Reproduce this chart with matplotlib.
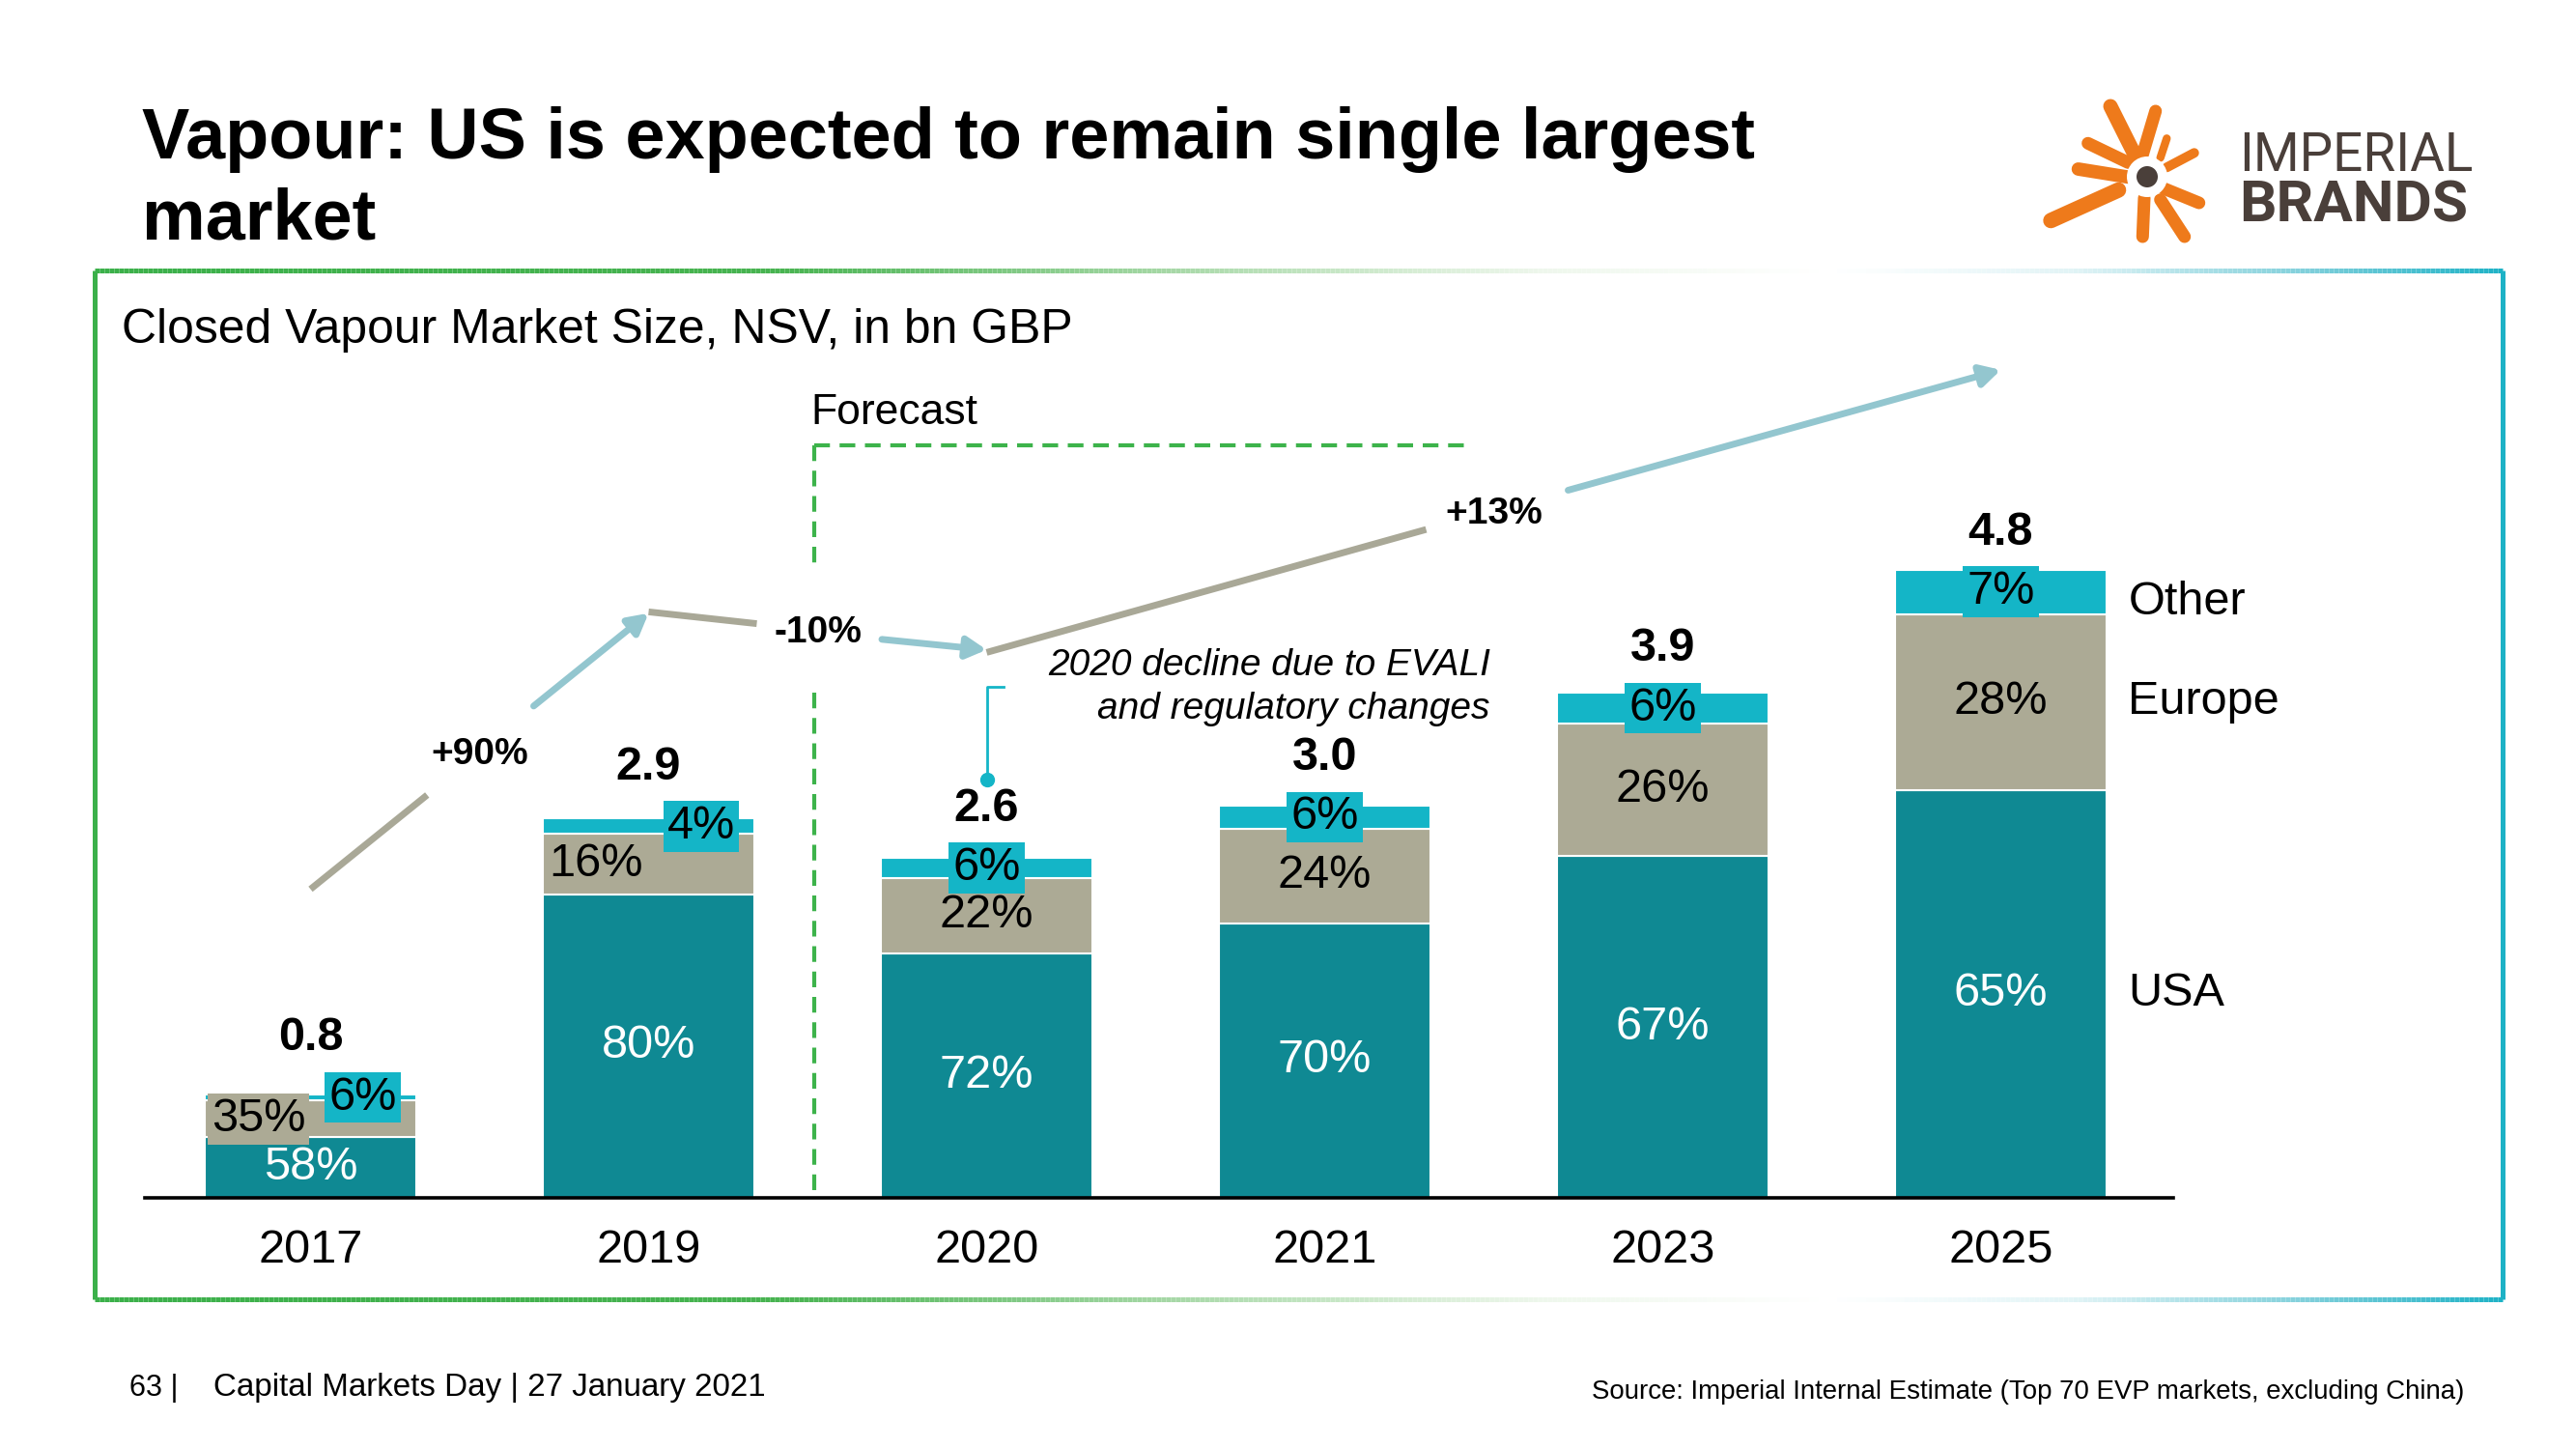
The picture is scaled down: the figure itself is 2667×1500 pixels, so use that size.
import numpy as np
import matplotlib
matplotlib.use('Agg')
import matplotlib.pyplot as plt
from matplotlib.collections import LineCollection
from matplotlib.colors import LinearSegmentedColormap
from matplotlib.patches import Circle

plt.rcParams['font.family'] = ['Liberation Sans', 'DejaVu Sans']

# ---------------- data ----------------
years = ['2017', '2019', '2020', '2021', '2023', '2025']
totals = [0.8, 2.9, 2.6, 3.0, 3.9, 4.8]
usa_pct = [58, 80, 72, 70, 67, 65]
europe_pct = [35, 16, 22, 24, 26, 28]
other_pct = [6, 4, 6, 6, 6, 7]
series_names = ['USA', 'Europe', 'Other']
growth_labels = ['+90%', '-10%', '+13%']

title_lines = ['Vapour: US is expected to remain single largest', 'market']
subtitle = 'Closed Vapour Market Size, NSV, in bn GBP'
note_text = '2020 decline due to EVALI\nand regulatory changes'
source_text = 'Source: Imperial Internal Estimate (Top 70 EVP markets, excluding China)'
footer_text = 'Capital Markets Day | 27 January 2021'
page_text = '63 |'

# ---------------- styles ----------------
C_USA = '#0F8993'
C_EUR = '#ACAA95'
C_OTH = '#14B5C7'
C_ARR_GREY = '#A9A897'
C_ARR_BLUE = '#93C6CF'
C_GREEN = '#3DB34B'
C_LOGO_OR = '#EE7A1B'
C_LOGO_BR = '#4A3F3A'

tot = np.array(totals)
usa = tot * np.array(usa_pct) / 100
eur = tot * np.array(europe_pct) / 100
oth = tot * np.array(other_pct) / 100
x = np.arange(len(years))
BW = 0.623

fig = plt.figure(figsize=(26.67, 15), dpi=100)
bg = fig.add_axes([0, 0, 1, 1])
bg.set_xlim(0, 2667)
bg.set_ylim(1500, 0)
bg.axis('off')

# ----- gradient frame -----
cmap = LinearSegmentedColormap.from_list('frame', [
    (0.0, '#3BB04A'), (0.28, '#47B350'), (0.45, '#A9D9A9'), (0.60, '#EEF7EC'),
    (0.72, '#FFFFFF'), (0.82, '#E2F4F6'), (0.92, '#7FCFDA'), (1.0, '#1DB2C6')])
L, R, T, B = 98, 2591, 280, 1345
xs = np.linspace(L, R, 500)
for yy in (T, B):
    segs = [[(xs[k], yy), (xs[k + 1], yy)] for k in range(len(xs) - 1)]
    cols = cmap((xs[:-1] - L) / (R - L))
    bg.add_collection(LineCollection(segs, colors=cols, linewidths=3.6, capstyle='butt'))
bg.plot([L, L], [T, B], color='#3BB04A', lw=3.6, solid_capstyle='butt')
bg.plot([R, R], [T, B], color='#1DB2C6', lw=3.6, solid_capstyle='butt')

# ----- titles -----
bg.text(147, 164, title_lines[0], fontsize=53.2, fontweight='bold', ha='left', va='baseline')
bg.text(147, 248, title_lines[1], fontsize=53.2, fontweight='bold', ha='left', va='baseline')
bg.text(126, 342, subtitle, fontsize=35.9, ha='left', va='center')

# ----- footer -----
bg.text(134, 1437, page_text, fontsize=22, ha='left', va='center')
bg.text(221, 1437, footer_text, fontsize=23.9, ha='left', va='center')
bg.text(2551, 1441, source_text, fontsize=19.9, ha='right', va='center')

# ----- logo -----
arms = [((2185, 110), (2211.7, 163.3), 10.8),
        ((2231.7, 115), (2218.3, 160), 9.4),
        ((2161.7, 148.3), (2203.3, 168.3), 9.4),
        ((2151.7, 175), (2203.3, 183.3), 10.0),
        ((2123.3, 228.3), (2193.3, 196.7), 11.5),
        ((2243.3, 143.3), (2236.7, 163.3), 6.0),
        ((2271.7, 158.3), (2243.3, 173.3), 7.2),
        ((2276.7, 210), (2240, 195), 9.4),
        ((2218.3, 245), (2220, 205), 9.4),
        ((2261.7, 245), (2236.7, 206.7), 9.4)]
for p0, p1, w in arms:
    bg.plot([p0[0], p1[0]], [p0[1], p1[1]], color=C_LOGO_OR, lw=w, solid_capstyle='round')
bg.add_patch(Circle((2223, 183), 21, fc='white', ec='none', zorder=3))
bg.add_patch(Circle((2223, 183), 11, fc=C_LOGO_BR, ec='none', zorder=4))
bg.text(2318, 177, 'IMPERIAL', fontsize=39.5, family='Roboto', fontweight='normal',
        color=C_LOGO_BR, ha='left', va='baseline')
bg.text(2318, 230, 'BRANDS', fontsize=43.5, family='Roboto', fontweight='bold',
        color=C_LOGO_BR, ha='left', va='baseline')

# ----- main chart -----
ax = fig.add_axes([150 / 2667, 260 / 1500, 2100 / 2667, 900 / 1500])
ax.patch.set_alpha(0)
ax.set_xlim(-0.49, 5.51)
ax.set_ylim(0, 900 / 135.4)

ax.bar(x, usa, width=BW, color=C_USA, edgecolor='white', linewidth=1.5, zorder=2)
ax.bar(x, eur, width=BW, bottom=usa, color=C_EUR, edgecolor='white', linewidth=1.5, zorder=2)
ax.bar(x, oth, width=BW, bottom=usa + eur, color=C_OTH, edgecolor='white', linewidth=1.5, zorder=2)

for spine in ['top', 'left', 'right']:
    ax.spines[spine].set_visible(False)
ax.spines['bottom'].set_linewidth(2.6)
ax.spines['bottom'].set_color('black')
ax.set_yticks([])
ax.set_xticks(x)
ax.set_xticklabels(years, fontsize=35)
ax.tick_params(axis='x', length=0, pad=23)

shift = 38.9  # points
for i in range(len(years)):
    thin = oth[i] < 0.14
    ax.annotate(f'{usa_pct[i]}%', (x[i], usa[i] / 2), ha='center', va='center',
                fontsize=35, color='white', zorder=4)
    ax.annotate(f'{europe_pct[i]}%', (x[i], usa[i] + eur[i] / 2),
                xytext=(-shift if thin else 0, 0), textcoords='offset points',
                ha='center', va='center', fontsize=35, color='black', zorder=4,
                bbox=dict(boxstyle='square,pad=0.08', fc=C_EUR, ec='none'))
    ax.annotate(f'{other_pct[i]}%', (x[i], usa[i] + eur[i] + oth[i] / 2),
                xytext=(shift if thin else 0, 0), textcoords='offset points',
                ha='center', va='center', fontsize=35, color='black', zorder=5,
                bbox=dict(boxstyle='square,pad=0.08', fc=C_OTH, ec='none'))
    ax.annotate(f'{totals[i]:.1f}', (x[i], usa[i] + eur[i] + oth[i] / 2),
                xytext=(0, 44), textcoords='offset points', ha='center', va='center',
                fontsize=35, fontweight='bold', zorder=5)

# series names on the right
last = len(years) - 1
name_y = [usa[last] / 2, usa[last] + eur[last] / 2, usa[last] + eur[last] + oth[last] / 2]
name_dy = [0, 0, -8]
for name, yv, dy in zip(series_names, name_y, name_dy):
    ax.annotate(name, (x[last] + BW / 2, yv), xytext=(16.5, dy), textcoords='offset points',
                ha='left', va='center', fontsize=35)

# growth arrows: (grey start, grey end, label pos, blue start, blue end)
arrow_paths = [((0.0, 2.36), (0.345, 3.08), (0.5, 3.39), (0.66, 3.76), (1.0, 4.47)),
               ((1.0, 4.48), (1.32, 4.39), (1.5, 4.32), (1.69, 4.27), (2.0, 4.19)),
               ((2.0, 4.17), (3.30, 5.11), (3.50, 5.23), (3.72, 5.41), (5.0, 6.33))]
for (g0, g1, tp, b0, b1), lab in zip(arrow_paths, growth_labels):
    ax.plot([g0[0], g1[0]], [g0[1], g1[1]], color=C_ARR_GREY, lw=5,
            solid_capstyle='butt', clip_on=False, zorder=3)
    ax.annotate('', xy=b1, xytext=b0, annotation_clip=False,
                arrowprops=dict(arrowstyle='-|>,head_length=0.55,head_width=0.3',
                                color=C_ARR_BLUE, lw=5, mutation_scale=22,
                                shrinkA=0, shrinkB=0), zorder=3)
    ax.text(tp[0], tp[1], lab, ha='center', va='center', fontsize=28,
            fontweight='bold', zorder=4)

# forecast dashed bracket
fx, fy, fx2 = 1.49, 5.75, 3.42
dash = (3.9, 2.4)
ax.plot([fx, fx2], [fy, fy], color=C_GREEN, lw=3.0, dashes=dash, clip_on=False)
ax.plot([fx, fx], [fy, 4.80], color=C_GREEN, lw=3.0, dashes=dash, clip_on=False)
ax.plot([fx, fx], [3.86, 0], color=C_GREEN, lw=3.0, dashes=dash, clip_on=False)
ax.text(fx - 0.01, 6.0, 'Forecast', fontsize=32, ha='left', va='center')

# EVALI note
ax.plot([2.0, 2.0, 2.05], [3.20, 3.91, 3.91], color=C_OTH, lw=2, clip_on=False, zorder=3)
ax.plot([2.0], [3.20], marker='o', ms=10, color=C_OTH, clip_on=False, zorder=3)
ax.text(3.49, 3.90, note_text, fontsize=28, style='italic', ha='right', va='center',
        multialignment='right', linespacing=1.32)

fig.savefig('out.png', dpi=100)
